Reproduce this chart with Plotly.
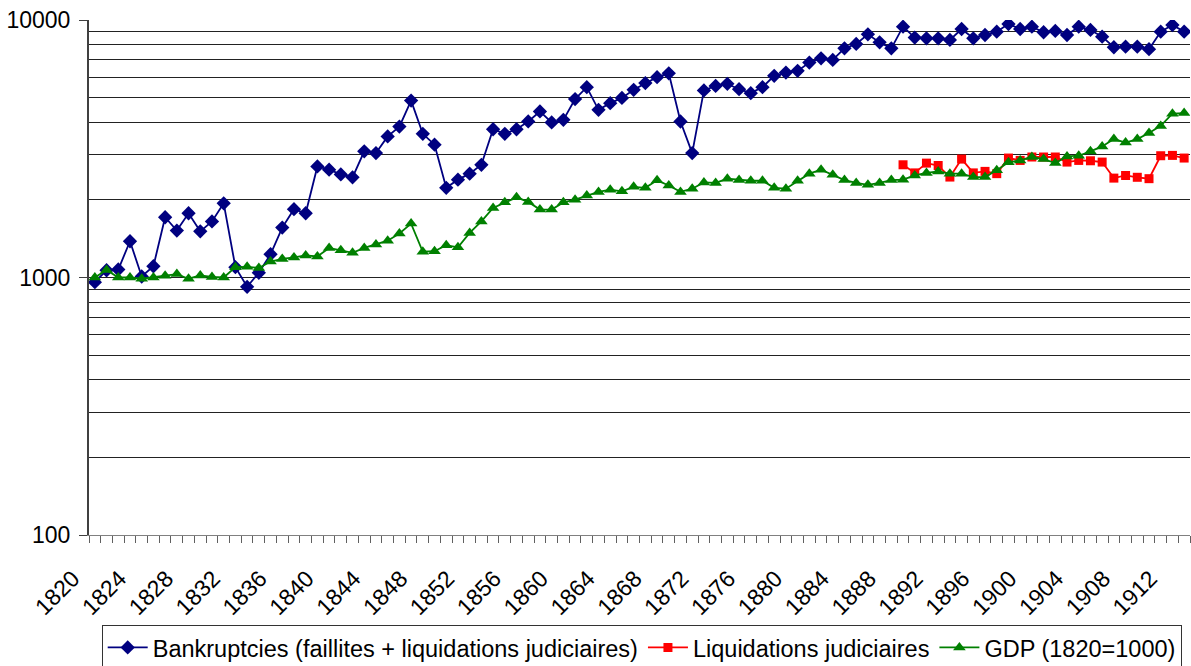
import plotly.graph_objects as go

years = list(range(1820, 1914))

bankruptcies = [
    959, 1067, 1074, 1383, 1009, 1106, 1714, 1521, 1776, 1511,
    1651, 1941, 1097, 920, 1043, 1231, 1563, 1842, 1776, 2700,
    2622, 2514, 2449, 3091, 3042, 3532, 3855, 4864, 3614, 3279,
    2229, 2399, 2531, 2740, 3765, 3614, 3765, 4037, 4414, 4002,
    4095, 4930, 5485, 4478, 4754, 4982, 5358, 5688, 5998, 6210,
    4035, 3042, 5326, 5546, 5650, 5385, 5199, 5485, 6068, 6250,
    6345, 6834, 7101, 7000, 7762, 8071, 8795, 8187, 7762, 9420,
    8545, 8492, 8492, 8365, 9228, 8492, 8746, 9011, 9649, 9228,
    9420, 8963, 9066, 8746, 9420, 9147, 8617, 7836, 7880, 7880,
    7701, 9011, 9563, 9011,
]

liq_years = list(range(1889, 1914))
liquidations = [
    2740, 2548, 2781, 2722, 2455, 2883, 2548, 2583, 2531, 2910,
    2849, 2937, 2937, 2937, 2807, 2849, 2840, 2807, 2432, 2490,
    2450, 2420, 2971, 2980, 2910,
]

gdp = [
    1000, 1070, 1000, 1000, 989, 1000, 1016, 1031, 989, 1018,
    1005, 1000, 1097, 1100, 1089, 1153, 1181, 1197, 1218, 1207,
    1303, 1275, 1247, 1303, 1343, 1390, 1482, 1619, 1259, 1265,
    1335, 1310, 1490, 1651, 1862, 1958, 2048, 1966, 1835, 1835,
    1958, 2005, 2081, 2149, 2193, 2161, 2250, 2229, 2384, 2276,
    2150, 2213, 2340, 2330, 2420, 2390, 2375, 2375, 2229, 2213,
    2375, 2531, 2622, 2506, 2390, 2330, 2290, 2330, 2390, 2399,
    2490, 2548, 2583, 2531, 2531, 2455, 2455, 2608, 2800, 2849,
    2937, 2883, 2781, 2953, 2971, 3091, 3229, 3449, 3343, 3449,
    3640, 3880, 4325, 4349,
]

label_start, label_step = 1820, 4
y_ticks = [100, 1000, 10000]
y_minor = [v * m for m in (100, 1000) for v in range(2, 10)]

FONT = "Liberation Sans, Arial, sans-serif"

fig = go.Figure()
fig.add_trace(go.Scatter(
    x=years, y=bankruptcies, mode="lines+markers",
    name="Bankruptcies (faillites + liquidations judiciaires)",
    line=dict(color="#000080", width=1.8),
    marker=dict(symbol="diamond", size=11, color="#000080"),
))
fig.add_trace(go.Scatter(
    x=liq_years, y=liquidations, mode="lines+markers",
    name="Liquidations judiciaires",
    line=dict(color="#FF0000", width=1.8),
    marker=dict(symbol="square", size=9, color="#FF0000"),
))
fig.add_trace(go.Scatter(
    x=years, y=gdp, mode="lines+markers",
    name="GDP (1820=1000)",
    line=dict(color="#008000", width=1.8),
    marker=dict(symbol="triangle-up", size=11, color="#008000"),
))

fig.update_layout(
    width=1191, height=666,
    margin=dict(l=89, r=1, t=20, b=131, autoexpand=False),
    paper_bgcolor="white", plot_bgcolor="white",
    font=dict(family=FONT, size=23, color="black"),
    showlegend=True,
    legend=dict(
        orientation="h", x=0.502, xanchor="center", y=-0.174, yanchor="top",
        bordercolor="#333333", borderwidth=1, font=dict(size=23.5),
        itemwidth=40, tracegroupgap=0,
    ),
)
fig.update_xaxes(
    type="linear", range=[1819.5, 1913.5],
    tickmode="linear", tick0=label_start, dtick=label_step, tickformat="d",
    tickangle=-45, ticks="outside", ticklen=7, tickcolor="rgba(0,0,0,0)",
    showgrid=False, zeroline=False,
    showline=True, linecolor="#808080", linewidth=1,
    minor=dict(tickmode="linear", tick0=1819.5, dtick=1, ticks="outside", ticklen=7,
               tickcolor="#606060", showgrid=False),
    tickfont=dict(size=23),
    ticklabelstandoff=13, ticklabelshift=-22,
)
fig.update_yaxes(
    type="log", range=[2, 4],
    tickmode="array", tickvals=y_ticks, ticktext=[str(v) for v in y_ticks],
    ticks="outside", ticklen=8, tickcolor="#404040",
    showgrid=True, gridcolor="#222222", gridwidth=1,
    minor=dict(tickvals=y_minor, showgrid=True, gridcolor="#222222", gridwidth=1, ticks=""),
    showline=True, linecolor="#404040", linewidth=2, zeroline=False,
    tickfont=dict(size=23),
    ticklabelstandoff=4,
)

fig.write_html("out.html", config={"displayModeBar": False},
               post_script="document.body.style.margin='0';")
